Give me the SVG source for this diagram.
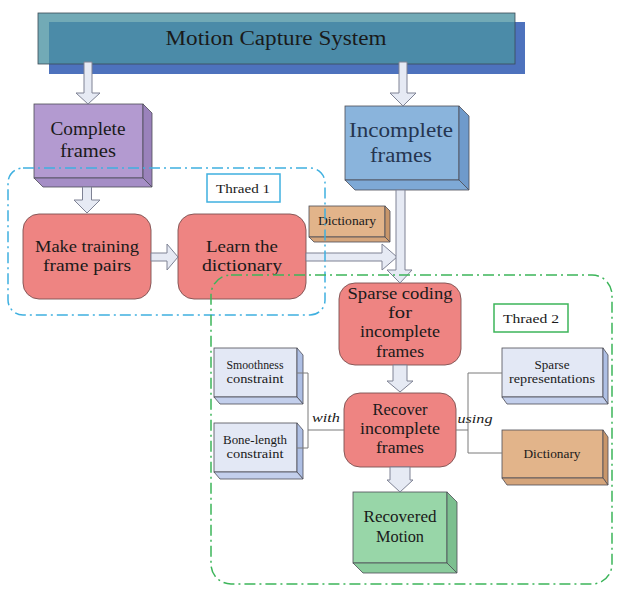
<svg xmlns="http://www.w3.org/2000/svg" width="622" height="596" viewBox="0 0 622 596">
<style>
.t{font-family:"Liberation Serif","DejaVu Serif",serif;fill:#1a1a1a;text-anchor:middle}
.it{font-style:italic}
.arrow{fill:#e6eaf4;stroke:#7e8294;stroke-width:1}
.line{fill:none;stroke:#7a7a7a;stroke-width:1}
.edge{stroke:#4d4d55;stroke-width:0.8}
.round{fill:#ee8482;stroke:#7a5050;stroke-width:0.9}
.purple .f{fill:#b39ad0}.purple .r{fill:#9a82bb}.purple .b{fill:#a58ec6}
.blue .f{fill:#8ab4dc}.blue .r{fill:#6f9acb}.blue .b{fill:#7ea9d6}
.green .f{fill:#98d6a8}.green .r{fill:#7cbf8f}.green .b{fill:#8acc9c}
.light .f{fill:#e3e8f5}.light .r{fill:#aebfe4}.light .b{fill:#c3cfec}
.orange .f{fill:#e2b48a}.orange .r{fill:#c8966a}.orange .b{fill:#d5a57b}
.thread{fill:none;stroke-width:1.5;stroke-dasharray:11 4 2 4}
</style>
<g id="mocap">
<rect x="49" y="22" width="476" height="52" fill="#4d72bd"/>
<rect x="38" y="13" width="477" height="51" fill="#4a92a2" fill-opacity="0.78" stroke="#3b4a55" stroke-width="0.8"/>
<text class="t" x="276" y="45" font-size="20" textLength="221" lengthAdjust="spacingAndGlyphs">Motion Capture System</text>
</g>
<g id="complete" class="purple">
<rect class="f edge" x="34" y="104" width="109" height="74"/>
<path class="r edge" d="M143,104 L152,113 L152,187 L143,178 Z"/>
<path class="b edge" d="M34,178 L143,178 L152,187 L43,187 Z"/>
<text class="t" x="88" y="135" font-size="18" textLength="75" lengthAdjust="spacingAndGlyphs">Complete</text>
<text class="t" x="88" y="157" font-size="18" textLength="56" lengthAdjust="spacingAndGlyphs">frames</text>
</g>
<g id="incomplete" class="blue">
<rect class="f edge" x="345" y="106" width="114" height="74"/>
<path class="r edge" d="M459,106 L469,116 L469,190 L459,180 Z"/>
<path class="b edge" d="M345,180 L459,180 L469,190 L355,190 Z"/>
<text class="t" x="401" y="137" font-size="20" fill="#253550" textLength="104" lengthAdjust="spacingAndGlyphs" style="fill:#253550">Incomplete</text>
<text class="t" x="401" y="162" font-size="20" textLength="62" lengthAdjust="spacingAndGlyphs" style="fill:#253550">frames</text>
</g>
<g id="make">
<rect class="round" x="23" y="214" width="128" height="85" rx="16"/>
<text class="t" x="87" y="252" font-size="16" textLength="104" lengthAdjust="spacingAndGlyphs">Make training</text>
<text class="t" x="87" y="271" font-size="16" textLength="88" lengthAdjust="spacingAndGlyphs">frame pairs</text>
</g>
<g id="learn">
<rect class="round" x="178" y="214" width="128" height="85" rx="16"/>
<text class="t" x="242" y="252" font-size="16" textLength="72" lengthAdjust="spacingAndGlyphs">Learn the</text>
<text class="t" x="242" y="271" font-size="16" textLength="80" lengthAdjust="spacingAndGlyphs">dictionary</text>
</g>
<g id="dict1" class="orange">
<rect class="f edge" x="309" y="206" width="76" height="31"/>
<path class="r edge" d="M385,206 L390,211 L390,242 L385,237 Z"/>
<path class="b edge" d="M309,237 L385,237 L390,242 L314,242 Z"/>
<text class="t" x="347" y="225" font-size="11.5" textLength="58" lengthAdjust="spacingAndGlyphs">Dictionary</text>
</g>
<g id="sparse">
<rect class="round" x="339" y="283" width="122" height="82" rx="16"/>
<text class="t" x="400" y="299" font-size="16" textLength="105" lengthAdjust="spacingAndGlyphs">Sparse coding</text>
<text class="t" x="400" y="318" font-size="16" textLength="24" lengthAdjust="spacingAndGlyphs">for</text>
<text class="t" x="400" y="337" font-size="16" textLength="80" lengthAdjust="spacingAndGlyphs">incomplete</text>
<text class="t" x="400" y="357" font-size="16" textLength="48" lengthAdjust="spacingAndGlyphs">frames</text>
</g>
<g id="recover">
<rect class="round" x="344" y="393" width="112" height="74" rx="16"/>
<text class="t" x="400" y="415" font-size="17" textLength="55" lengthAdjust="spacingAndGlyphs">Recover</text>
<text class="t" x="400" y="434" font-size="17" textLength="80" lengthAdjust="spacingAndGlyphs">incomplete</text>
<text class="t" x="400" y="453" font-size="17" textLength="48" lengthAdjust="spacingAndGlyphs">frames</text>
</g>
<g id="recovered" class="green">
<rect class="f edge" x="353" y="492" width="94" height="71"/>
<path class="r edge" d="M447,492 L457,502 L457,573 L447,563 Z"/>
<path class="b edge" d="M353,563 L447,563 L457,573 L363,573 Z"/>
<text class="t" x="400" y="522" font-size="17" textLength="73" lengthAdjust="spacingAndGlyphs">Recovered</text>
<text class="t" x="400" y="542" font-size="17" textLength="48" lengthAdjust="spacingAndGlyphs">Motion</text>
</g>
<g id="smooth" class="light">
<rect class="f edge" x="214" y="348" width="83" height="49"/>
<path class="r edge" d="M297,348 L303,355 L303,404 L297,397 Z"/>
<path class="b edge" d="M214,397 L297,397 L303,404 L220,404 Z"/>
<text class="t" x="255" y="369" font-size="11.5" textLength="57" lengthAdjust="spacingAndGlyphs">Smoothness</text>
<text class="t" x="255" y="383" font-size="11.5" textLength="57" lengthAdjust="spacingAndGlyphs">constraint</text>
</g>
<g id="bone" class="light">
<rect class="f edge" x="214" y="423" width="83" height="49"/>
<path class="r edge" d="M297,423 L303,430 L303,479 L297,472 Z"/>
<path class="b edge" d="M214,472 L297,472 L303,479 L220,479 Z"/>
<text class="t" x="255" y="444" font-size="11.5" textLength="64" lengthAdjust="spacingAndGlyphs">Bone-length</text>
<text class="t" x="255" y="458" font-size="11.5" textLength="57" lengthAdjust="spacingAndGlyphs">constraint</text>
</g>
<g id="sparserep" class="light">
<rect class="f edge" x="502" y="348" width="101" height="49"/>
<path class="r edge" d="M603,348 L608,355 L608,404 L603,397 Z"/>
<path class="b edge" d="M502,397 L603,397 L608,404 L507,404 Z"/>
<text class="t" x="552" y="369" font-size="11.5" textLength="35" lengthAdjust="spacingAndGlyphs">Sparse</text>
<text class="t" x="552" y="383" font-size="11.5" textLength="86" lengthAdjust="spacingAndGlyphs">representations</text>
</g>
<g id="dict2" class="orange">
<rect class="f edge" x="502" y="430" width="101" height="48"/>
<path class="r edge" d="M603,430 L608,437 L608,485 L603,478 Z"/>
<path class="b edge" d="M502,478 L603,478 L608,485 L507,485 Z"/>
<text class="t" x="552" y="458" font-size="11.5" textLength="57" lengthAdjust="spacingAndGlyphs">Dictionary</text>
</g>
<g id="connectors">
<path class="arrow" d="M84,62 L92,62 L92,93 L100,93 L88,104 L76,93 L84,93 Z"/>
<path class="arrow" d="M399,62 L407,62 L407,93 L416,93 L403,106 L390,93 L399,93 Z"/>
<path class="arrow" d="M82.5,187 L91.5,187 L91.5,200 L100,200 L87,213 L74,200 L82.5,200 Z"/>
<path class="arrow" d="M151,253 L167,253 L167,244 L178,257 L167,270 L167,261 L151,261 Z"/>
<path class="arrow" d="M306,253 L382,253 L382,244 L397,257 L382,270 L382,261 L306,261 Z"/>
<path class="arrow" d="M396,190 L405,190 L405,270 L412,270 L400,283 L387,270 L396,270 Z"/>
<path class="arrow" d="M393,365 L407,365 L407,381 L413,381 L400,392 L387,381 L393,381 Z"/>
<path class="arrow" d="M390,467 L410,467 L410,480 L413,480 L400,492 L387,480 L390,480 Z"/>
<path class="line" d="M297,373 H308 V448 H297 M308,430 H344"/>
<path class="line" d="M456,430 H468 M502,373 H468 V453 H502"/>
<text class="t it" x="326" y="422" font-size="13" textLength="28" lengthAdjust="spacingAndGlyphs">with</text>
<text class="t it" x="475" y="423" font-size="13" textLength="35" lengthAdjust="spacingAndGlyphs">using</text>
</g>
<g id="thread1">
<rect class="thread" x="8" y="168" width="317" height="147" rx="15" stroke="#3fb0e0"/>
<rect x="207" y="174" width="73" height="28" fill="#fff" stroke="#3fb0e0" stroke-width="1.5"/>
<text class="t" x="243" y="193" font-size="13" textLength="54" lengthAdjust="spacingAndGlyphs">Thraed 1</text>
</g>
<g id="thread2">
<rect class="thread" x="211" y="275" width="401" height="309" rx="20" stroke="#3cb55a"/>
<rect x="494" y="304" width="74" height="28" fill="#fff" stroke="#3cb55a" stroke-width="1.5"/>
<text class="t" x="531" y="323" font-size="13.5" textLength="56" lengthAdjust="spacingAndGlyphs">Thraed 2</text>
</g>
</svg>
